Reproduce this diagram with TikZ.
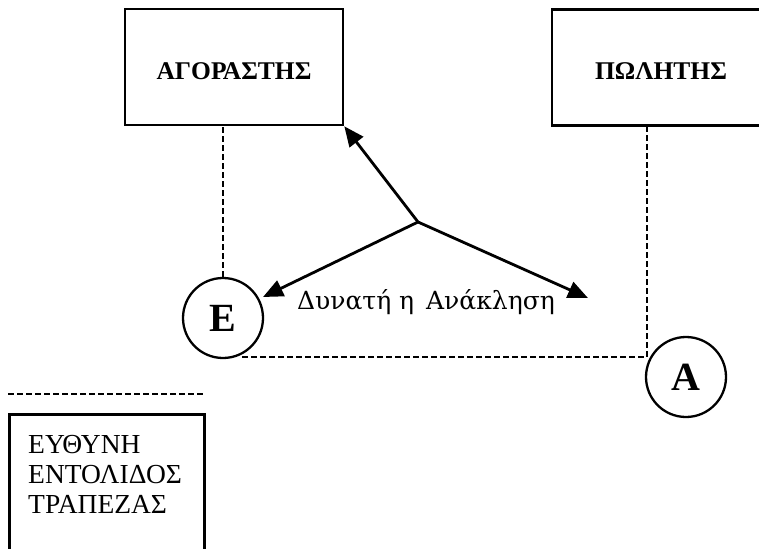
\documentclass[tikz,border=0pt]{standalone}
\usepackage{fontspec}
\setmainfont{Liberation Serif}
\newfontfamily\labelfont{DejaVu Serif}
\usetikzlibrary{arrows.meta,positioning}

\begin{document}
\begin{tikzpicture}[x=1pt,y=-1pt,
    party/.style={draw,line width=2.6pt,minimum width=218pt,minimum height=116pt,
      text height=25pt,font=\fontsize{25.5}{30}\selectfont\bfseries},
    bank/.style={draw,circle,line width=2.3pt,minimum size=80pt,inner sep=0pt,
      font=\fontsize{40}{44}\selectfont\bfseries},
    link/.style={line width=2pt,dash pattern=on 5.5pt off 3.5pt},
    revoke/.style={line width=2.8pt,-{Triangle[length=20pt,width=17pt]}}]
	  \useasboundingbox (0,0) rectangle (759,548);
	  % Draw the two parties
	  \node[party] (buyer) at (234,67) {ΑΓΟΡΑΣΤΗΣ};
	  \node[party] (seller) at (661,67.5) {ΠΩΛΗΤΗΣ};
	  % Draw the two banks
	  \node[bank] (E) at (223,318) {E};
	  \node[bank] (A) at (686,377) {A};
	  % Dashed links of responsibility
	  \coordinate (bend) at (647,357);
	  \draw[link] (E.north) -- (E.north |- buyer.south);
	  \draw[link] (bend -| E.-62) -- (bend) -- (bend |- seller.south);
	  % Revocation arrows
	  \coordinate (split) at (418,222);
	  \coordinate (ltip) at (263,297);
	  \coordinate (rtip) at (588,298);
	  \draw[revoke] (split) -- (buyer.south east);
	  \draw[revoke] (split) -- (ltip);
	  \draw[revoke] (split) -- (rtip);
	  \node[font=\labelfont\fontsize{25}{28}\selectfont,anchor=base] (revtext) at (426,309)
	      {Δυνατή η\hspace{12pt}Ανάκληση};
	  % Legend
	  \draw[link] (8,394) coordinate (key_1) -- (205,394) coordinate (key_2);
	  \node[draw,line width=2.6pt,anchor=north west,minimum width=195pt,
	      minimum height=150pt] (legend) at (8,413) {};
	  \node[font=\fontsize{27.5}{30}\selectfont,align=left,anchor=north west,inner sep=0pt]
	      (legendtext) at (28,435) {ΕΥΘΥΝΗ\\ΕΝΤΟΛΙΔΟΣ\\ΤΡΑΠΕΖΑΣ};
      \end{tikzpicture}
\end{document}
